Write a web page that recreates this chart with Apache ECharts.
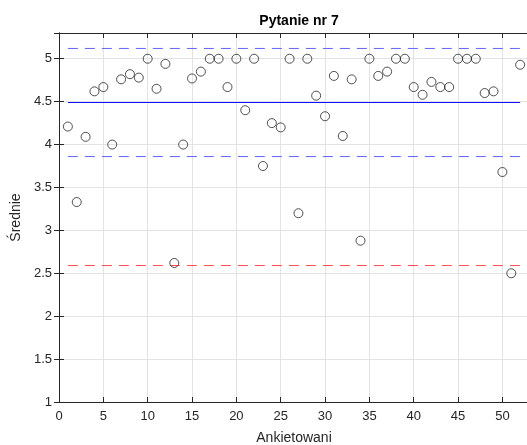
<!DOCTYPE html>
<html>
<head>
<meta charset="utf-8">
<script src="https://cdn.jsdelivr.net/npm/echarts@6/dist/echarts.min.js"></script>
<style>html,body{margin:0;padding:0;background:#fff;}#c{width:527px;height:445px;}</style>
</head>
<body>
<div id="c"></div>
<script>
const respondents = [1,2,3,4,5,6,7,8,9,10,11,12,13,14,15,16,17,18,19,20,21,22,23,24,25,26,27,28,29,30,31,32,33,34,35,36,37,38,39,40,41,42,43,44,45,46,47,48,49,50,51,52];
const means = [4.21,3.33,4.09,4.62,4.67,4.0,4.76,4.82,4.78,5.0,4.65,4.94,2.62,4.0,4.77,4.85,5.0,5.0,4.67,5.0,4.40,5.0,3.75,4.25,4.20,5.0,3.2,5.0,4.57,4.33,4.80,4.10,4.76,2.88,5.0,4.80,4.85,5.0,5.0,4.67,4.58,4.73,4.67,4.67,5.0,5.0,5.0,4.60,4.62,3.68,2.5,4.93];
const meanLine = 4.49;
const upperLine = 5.12;
const lowerLine = 3.86;
const thresholdLine = 2.59;
const lineSpan = [1, 52];
const xTicks = [0,5,10,15,20,25,30,35,40,45,50];
const yTicks = [1,1.5,2,2.5,3,3.5,4,4.5,5];

const hline = (v, color, type) => ({
  type: 'line', data: lineSpan.map(x => [x, v]), symbol: 'none', silent: true,
  lineStyle: { color: color, width: 1, type: type }, z: 3
});

const font = 'Liberation Sans, Arial, Helvetica, sans-serif';
const chart = echarts.init(document.getElementById('c'), null, { renderer: 'canvas' });
const axisLineStyle = { color: '#262626', width: 1 };
chart.setOption({
  animation: false,
  backgroundColor: '#fff',
  title: {
    text: 'Pytanie nr 7', left: 294, top: 9, textAlign: 'center',
    textStyle: { fontFamily: font, fontSize: 14, fontWeight: 'bold', color: '#000' }
  },
  grid: { left: 59, top: 33, width: 470, height: 369, containLabel: false, outerBoundsMode: 'none' },
  xAxis: [{
    type: 'value', min: 0, max: 53, interval: 5, position: 'bottom',
    name: 'Ankietowani', nameLocation: 'middle', nameGap: 29,
    nameTextStyle: { fontFamily: font, fontSize: 14, color: '#262626' },
    axisLine: { show: true, lineStyle: axisLineStyle },
    axisTick: { show: true, inside: true, length: 5, lineStyle: axisLineStyle },
    axisLabel: { fontFamily: font, fontSize: 13, color: '#262626', showMaxLabel: false, margin: 8,
      formatter: v => xTicks.includes(v) ? String(v) : '' },
    splitLine: { show: true, lineStyle: { color: '#e3e3e3', width: 1 } }
  }, {
    type: 'value', min: 0, max: 53, interval: 5, position: 'top',
    axisLine: { show: true, lineStyle: axisLineStyle },
    axisTick: { show: true, inside: true, length: 5, lineStyle: axisLineStyle },
    axisLabel: { show: false }, splitLine: { show: false }
  }],
  yAxis: [{
    type: 'value', min: 1, max: 5.3, interval: 0.5, position: 'left',
    name: 'Średnie', nameLocation: 'middle', nameGap: 26,
    nameTextStyle: { fontFamily: font, fontSize: 14, color: '#262626' },
    axisLine: { show: true, lineStyle: axisLineStyle },
    axisTick: { show: true, inside: true, length: 5, lineStyle: axisLineStyle },
    axisLabel: { fontFamily: font, fontSize: 13, color: '#262626', showMaxLabel: false, margin: 7,
      formatter: v => yTicks.includes(v) ? String(v) : '' },
    splitLine: { show: true, lineStyle: { color: '#e3e3e3', width: 1 } }
  }, {
    type: 'value', min: 1, max: 5.3, interval: 0.5, position: 'right',
    axisLine: { show: true, lineStyle: axisLineStyle },
    axisTick: { show: true, inside: true, length: 5, lineStyle: axisLineStyle },
    axisLabel: { show: false }, splitLine: { show: false }
  }],
  series: [
    hline(upperLine, '#6262ff', [10, 7]),
    hline(meanLine, '#1010ff', 'solid'),
    hline(lowerLine, '#6262ff', [10, 7]),
    hline(thresholdLine, '#ff4a4a', [10, 7]),
    {
      type: 'scatter', data: respondents.map((x, i) => [x, means[i]]),
      symbol: 'circle', symbolSize: 9, z: 5,
      itemStyle: { color: 'rgba(0,0,0,0)', borderColor: '#262626', borderWidth: 1 }
    }
  ]
});
</script>
</body>
</html>
